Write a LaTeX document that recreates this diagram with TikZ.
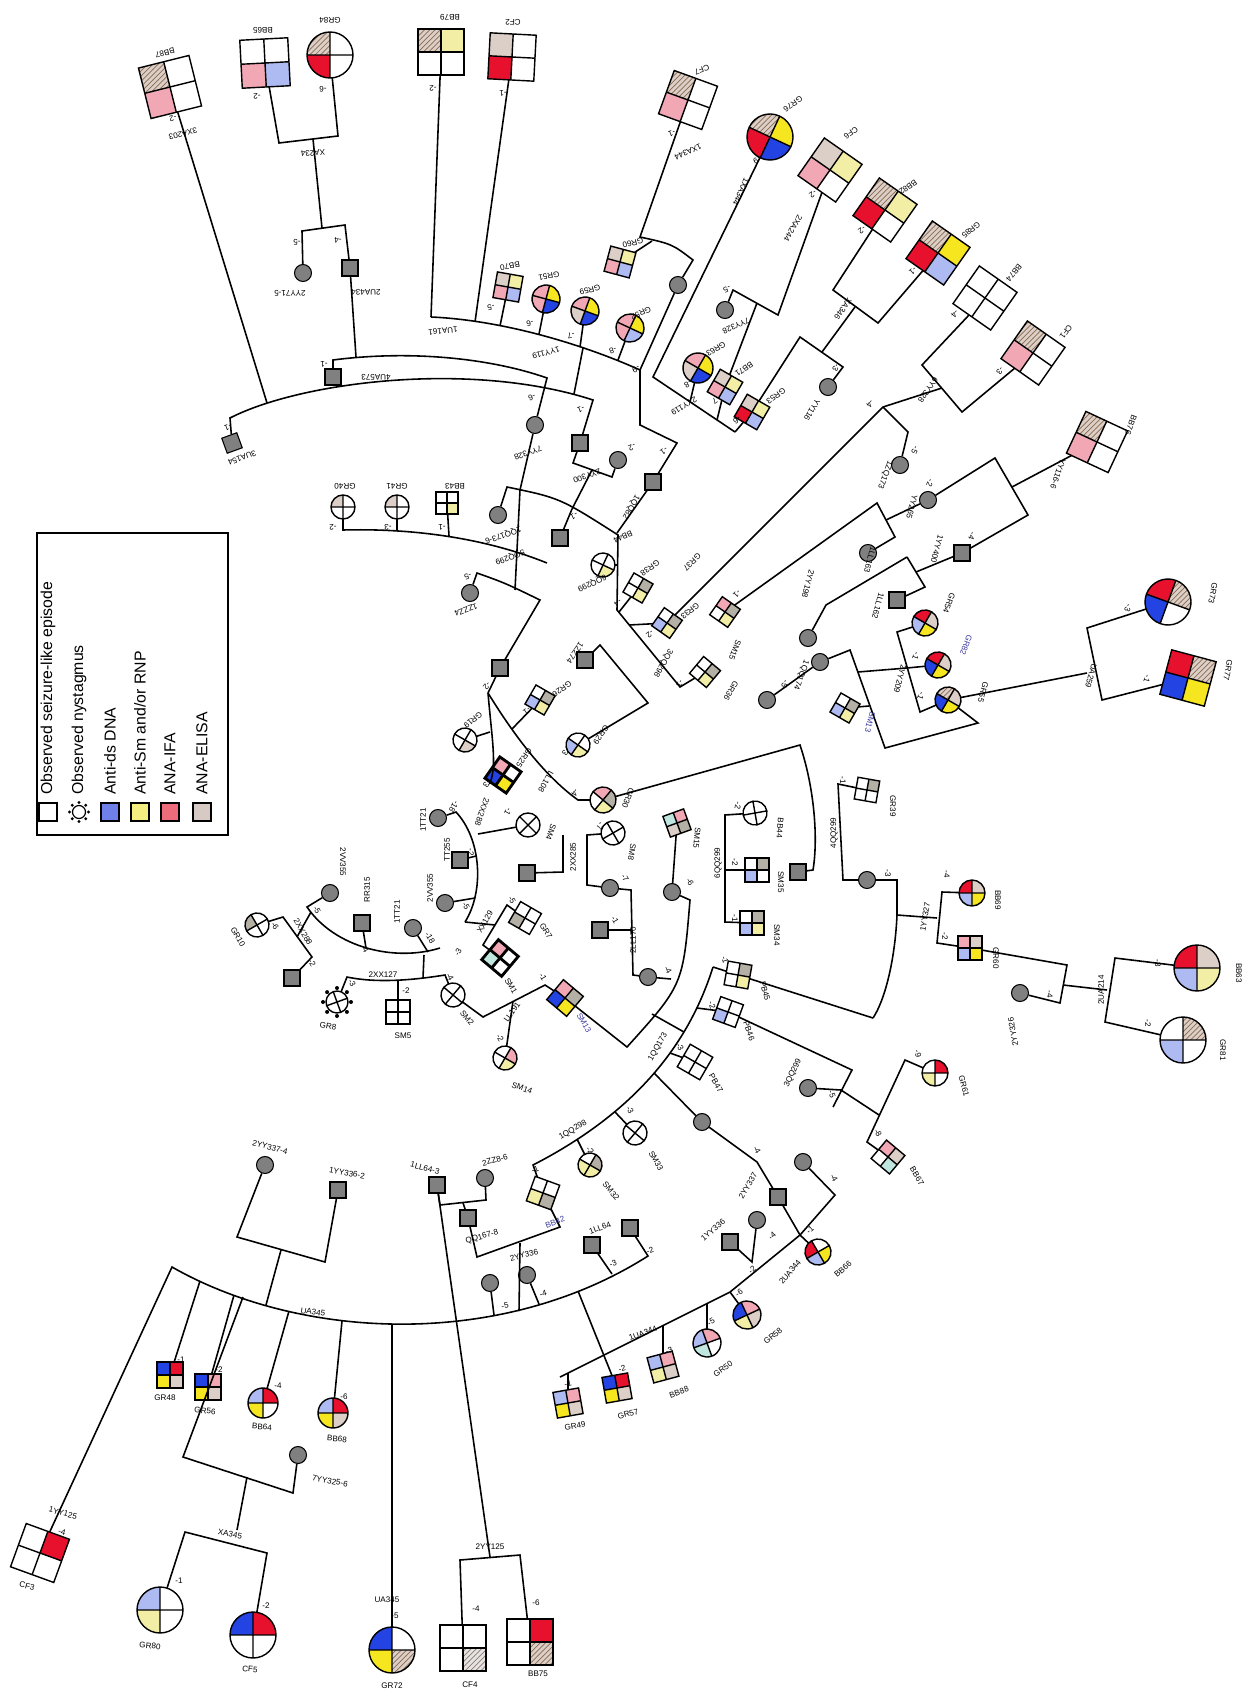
\documentclass[tikz,border=0pt]{standalone}
\usepackage{fontspec}
\setmainfont{Liberation Sans}
\usetikzlibrary{patterns}
\definecolor{dnaS}{HTML}{2343E3}
\definecolor{dnaL}{HTML}{AEBBF2}
\definecolor{smS}{HTML}{F6E620}
\definecolor{smL}{HTML}{F3EEA6}
\definecolor{ifaS}{HTML}{E8112D}
\definecolor{ifaL}{HTML}{F2A7B5}
\definecolor{elisa}{HTML}{DCCFC8}
\definecolor{grayq}{HTML}{B5B0A5}
\definecolor{tealL}{HTML}{BFE6DF}
\definecolor{hatchc}{HTML}{8A6A50}
\definecolor{legB}{HTML}{6F80E8}
\definecolor{legY}{HTML}{F4EE80}
\definecolor{legR}{HTML}{EC6C7C}
\definecolor{legT}{HTML}{D7C9C4}
\definecolor{labblue}{HTML}{3A3AA0}
\tikzset{
  sym/.style={draw,line width=0.8pt},
  symthick/.style={draw,line width=1.6pt},
  hold/.style={inner sep=0pt,outer sep=0pt},
  gsq/.style={draw,line width=0.6pt,fill=black!50,minimum size=0.32cm,inner sep=0pt},
  gci/.style={gsq,circle,minimum size=0.34cm},
  ln/.style={line width=0.9pt},
  lbl/.style={font=\fontsize{4.6}{5}\selectfont,inner sep=0.3pt},
  lgbox/.style={draw,line width=0.7pt,minimum size=0.36cm,inner sep=0pt},
  lgtxt/.style={font=\fontsize{9}{10}\selectfont,inner sep=0pt},
  fW/.style={fill=white}, fB/.style={fill=dnaS}, fLB/.style={fill=dnaL},
  fY/.style={fill=smS}, fLY/.style={fill=smL}, fR/.style={fill=ifaS},
  fPK/.style={fill=ifaL}, fT/.style={fill=elisa}, fG/.style={fill=grayq},
  fLT/.style={fill=tealL},
  fH/.style={fill=elisa,postaction={pattern=north east lines,pattern color=hatchc}},
  fHG/.style={fill=elisa!60,postaction={pattern=north east lines,pattern color=gray}},
}
% quartered square: [border]{name}{pos}{half side}{tilt}{TL}{TR}{BL}{BR}
\newcommand{\quadsq}[9][sym]{%
  \begin{scope}[shift={#3},rotate=#5]
    \fill[#6] (-#4,-#4) rectangle (0,0);
    \fill[#7] (0,-#4) rectangle (#4,0);
    \fill[#8] (-#4,0) rectangle (0,#4);
    \fill[#9] (0,0) rectangle (#4,#4);
    \draw[#1] (-#4,-#4) rectangle (#4,#4) (-#4,0) -- (#4,0) (0,-#4) -- (0,#4);
  \end{scope}
  \node[hold,minimum size=#4*0.04cm,rotate=#5] (#2) at #3 {};}
% quartered circle: [border]{name}{pos}{radius}{tilt}{TL}{TR}{BL}{BR}
\newcommand{\quadci}[9][sym]{%
  \begin{scope}[shift={#3},rotate=#5]
    \begin{scope}
      \clip (0,0) circle[radius=#4];
      \fill[#6] (-#4,-#4) rectangle (0,0);
      \fill[#7] (0,-#4) rectangle (#4,0);
      \fill[#8] (-#4,0) rectangle (0,#4);
      \fill[#9] (0,0) rectangle (#4,#4);
    \end{scope}
    \draw[#1] (0,0) circle[radius=#4] (-#4,0) -- (#4,0) (0,-#4) -- (0,#4);
  \end{scope}
  \node[hold,circle,minimum size=#4*0.04cm] (#2) at #3 {};}

\begin{document}
\begin{tikzpicture}[x=0.02cm,y=-0.02cm]
\fill[white] (0,0) rectangle (1246,1693);
\useasboundingbox (0,0) rectangle (1246,1693);

% ---- individuals, upper part
\quadsq{bb87}{(170,87)}{26}{14}{fH}{fW}{fPK}{fW}
\quadsq{bb65}{(265,63)}{24}{3}{fW}{fW}{fPK}{fLB}
\quadci{gr84}{(330,55)}{23}{0}{fH}{fW}{fR}{fW}
\quadsq{bb79}{(441,52)}{23}{0}{fH}{fLY}{fW}{fW}
\quadsq{cf2}{(512,57)}{23}{-3}{fT}{fW}{fR}{fW}
\quadsq{bb70}{(508,287)}{13}{-10}{fT}{fLY}{fPK}{fLB}
\quadci{gr51}{(546,299)}{14}{-15}{fPK}{fY}{fPK}{fB}
\quadci{gr59}{(585,311)}{14}{-20}{fPK}{fY}{fT}{fB}
\quadci{gr52}{(630,328)}{14}{-25}{fPK}{fY}{fPK}{fLB}
\quadsq{gr60}{(620,262)}{13}{-15}{fT}{fLY}{fPK}{fLB}
\quadsq{cf7}{(688,100)}{23}{-20}{fH}{fW}{fPK}{fW}
\quadci{gr76}{(770,137)}{23}{-25}{fH}{fY}{fR}{fB}
\quadci{gr63}{(698,368)}{15}{-30}{fPK}{fY}{fT}{fB}
\quadsq{bb71}{(725,387)}{13}{-30}{fT}{fLY}{fPK}{fLB}
\quadsq{gr53}{(752,412)}{13}{-30}{fT}{fLY}{fR}{fLB}
\quadsq{cf6}{(830,170)}{23}{-35}{fT}{fLY}{fPK}{fW}
\quadsq{bb82}{(885,210)}{23}{-35}{fH}{fLY}{fR}{fW}
\quadsq{gr85}{(938,253)}{23}{-35}{fH}{fY}{fR}{fLB}
\quadsq{bb74}{(985,298)}{23}{-35}{fW}{fW}{fW}{fW}
\quadsq{cf1}{(1033,353)}{23}{-35}{fH}{fW}{fPK}{fW}
\quadsq{bb76}{(1097,442)}{23}{-25}{fH}{fW}{fPK}{fW}
\node[gci] (yy71) at (303,273) {};
\node[gsq] (ua434) at (350,268) {};
\node[gsq] (ua573) at (333,377) {};
\node[gsq,rotate=20] (ua154) at (232,443) {};
\node[gci] (g678) at (678,285) {};
\node[gci] (yy328a) at (725,310) {};
\node[gci] (yy116) at (828,387) {};

% ---- right part
\quadci{gr54}{(925,623)}{13}{-30}{fR}{fT}{fLB}{fY}
\quadci{gr82}{(938,665)}{13}{-30}{fR}{fT}{fB}{fY}
\quadci{gr55}{(948,700)}{13}{-30}{fH}{fT}{fB}{fY}
\quadsq{sm13a}{(845,708)}{11}{-30}{fW}{fG}{fLB}{fLY}
\quadci{gr73}{(1168,602)}{23}{-20}{fR}{fH}{fB}{fW}
\quadsq{gr77}{(1188,678)}{23}{-15}{fR}{fH}{fB}{fY}
\quadsq{gr39}{(867,790)}{11}{-10}{fW}{fG}{fW}{fW}
\quadci{bb69}{(972,893)}{13}{0}{fR}{fT}{fLB}{fY}
\quadsq{gr60b}{(970,948)}{12}{0}{fPK}{fT}{fLB}{fY}
\quadci{bbk3}{(1197,968)}{23}{0}{fR}{fT}{fLB}{fLY}
\quadci{gr81}{(1183,1040)}{23}{0}{fW}{fH}{fLB}{fW}
\quadci{gr61}{(935,1073)}{13}{0}{fW}{fR}{fLY}{fW}
\quadsq{bb67}{(888,1157)}{12}{-40}{fPK}{fT}{fW}{fLT}
\node[gci] (zq173) at (900,465) {};
\node[gci] (yy265) at (928,500) {};
\node[gsq] (yy400) at (962,553) {};
\node[gci] (ll163) at (868,553) {};
\node[gsq] (ll162) at (897,600) {};
\node[gci] (qq174a) at (808,638) {};
\node[gci] (qq174b) at (820,662) {};
\node[gci] (qq174c) at (767,700) {};
\node[gci] (g867) at (867,880) {};
\node[gsq] (g798) at (798,872) {};
\node[gci] (yy326) at (1020,993) {};
\node[gci] (g808) at (808,1088) {};

% ---- centre
\quadsq{bb43}{(447,503)}{11}{0}{fW}{fW}{fW}{fLY}
\quadci{gr40}{(343,507)}{12}{0}{fT}{fW}{fW}{fW}
\quadci{gr41}{(397,507)}{12}{0}{fT}{fW}{fW}{fW}
\quadsq{gr26}{(540,700)}{11}{-30}{fW}{fG}{fLB}{fLY}
\quadci{bb44}{(603,565)}{12}{-25}{fW}{fW}{fW}{fLY}
\quadsq{gr38}{(638,588)}{11}{-30}{fW}{fG}{fW}{fLY}
\quadsq{gr33}{(667,623)}{11}{-35}{fW}{fG}{fLB}{fLY}
\quadsq{sm15a}{(725,612)}{11}{-35}{fPK}{fG}{fW}{fLY}
\quadsq{gr36}{(705,672)}{11}{-40}{fW}{fG}{fW}{fLY}
\quadci{gr29}{(578,745)}{12}{-35}{fW}{fW}{fLB}{fLY}
\quadci{gr19}{(465,740)}{12}{-30}{fW}{fW}{fW}{fT}
\quadsq[symthick]{gr25}{(503,775)}{13}{-35}{fPK}{fW}{fB}{fY}
\quadci{gr30}{(603,800)}{13}{-40}{fPK}{fG}{fW}{fLY}
\quadci{sm4}{(528,825)}{12}{-45}{fW}{fW}{fW}{fW}
\quadci{sm8}{(613,833)}{12}{-60}{fW}{fW}{fW}{fW}
\quadsq{sm15b}{(677,823)}{11}{-70}{fPK}{fG}{fLT}{fT}
\quadci{bb14}{(755,813)}{12}{-80}{fW}{fW}{fW}{fW}
\quadci{gr10}{(257,925)}{12}{30}{fG}{fW}{fW}{fW}
\quadci{gr8}{(337,1002)}{11}{20}{fW}{fW}{fW}{fW}
\foreach \ang in {0,45,...,315} \fill[shift={(337,1002)}] (\ang:14) circle[radius=2];
\quadsq{sm5}{(398,1012)}{12}{0}{fW}{fW}{fW}{fW}
\quadsq{gr7}{(525,918)}{12}{-30}{fW}{fW}{fG}{fW}
\quadsq[symthick]{sm1}{(500,958)}{13}{-40}{fPK}{fW}{fLT}{fW}
\quadci{sm2}{(453,995)}{12}{-40}{fW}{fW}{fW}{fW}
\quadsq{sm13b}{(565,998)}{13}{-40}{fPK}{fG}{fB}{fY}
\quadci{sm14}{(505,1058)}{12}{-30}{fW}{fPK}{fW}{fLY}
\quadsq{sm35}{(757,870)}{12}{0}{fW}{fG}{fLB}{fW}
\quadsq{sm34}{(752,923)}{12}{0}{fW}{fG}{fLB}{fLY}
\quadsq{pb45}{(738,975)}{12}{-10}{fW}{fG}{fW}{fLY}
\quadsq{pb46}{(728,1012)}{12}{-20}{fW}{fW}{fLB}{fW}
\quadsq{pb47}{(695,1062)}{13}{-30}{fW}{fW}{fW}{fW}
\quadci{sm33}{(635,1133)}{12}{-40}{fW}{fW}{fW}{fW}
\quadci{sm32}{(590,1165)}{12}{-30}{fW}{fG}{fLY}{fLY}
\quadsq{bb42}{(543,1193)}{13}{-20}{fW}{fW}{fLY}{fG}
\quadci{bb66}{(818,1252)}{13}{30}{fR}{fW}{fLB}{fY}
\node[gci] (yy328b) at (535,425) {};
\node[gsq] (g580) at (580,443) {};
\node[gci] (g618) at (618,460) {};
\node[gsq] (qq82) at (653,482) {};
\node[gci] (qq1736) at (498,515) {};
\node[gsq] (g560) at (560,538) {};
\node[gci] (zz4) at (470,593) {};
\node[gsq] (zz74) at (585,660) {};
\node[gsq] (g500) at (500,668) {};
\node[gci] (tt21a) at (438,818) {};
\node[gci] (vv355a) at (330,893) {};
\node[gsq] (rr315) at (362,923) {};
\node[gsq] (g292) at (292,978) {};
\node[gsq] (tt255) at (460,860) {};
\node[gci] (vv355b) at (445,903) {};
\node[gci] (tt21b) at (413,928) {};
\node[gsq] (g527) at (527,873) {};
\node[gci] (g610) at (610,888) {};
\node[gsq] (g600) at (600,930) {};
\node[gci] (g672) at (672,892) {};
\node[gci] (g648) at (648,977) {};
\node[gci] (g702) at (702,1122) {};
\node[gsq] (g778) at (778,1197) {};
\node[gci] (g803) at (803,1162) {};
\node[gsq] (ll643) at (437,1185) {};
\node[gci] (zz86) at (485,1178) {};
\node[gsq] (qq1678) at (468,1218) {};
\node[gsq] (g630) at (630,1228) {};
\node[gsq] (g592) at (592,1245) {};
\node[gsq] (yy336a) at (730,1242) {};
\node[gci] (g757) at (757,1220) {};

% ---- lower part
\quadsq{cf3}{(40,1553)}{23}{-20}{fW}{fR}{fW}{fW}
\quadsq{gr48}{(170,1375)}{13}{0}{fB}{fR}{fY}{fT}
\quadsq{gr56}{(208,1387)}{13}{0}{fB}{fPK}{fY}{fT}
\quadci{bb64}{(263,1403)}{15}{0}{fLB}{fR}{fY}{fW}
\quadci{bb68}{(333,1413)}{15}{0}{fLB}{fR}{fY}{fT}
\quadci{gr80}{(160,1610)}{23}{0}{fLB}{fW}{fLY}{fW}
\quadci{cf5}{(253,1635)}{23}{0}{fB}{fR}{fW}{fW}
\quadci{gr72}{(392,1650)}{23}{0}{fB}{fW}{fY}{fH}
\quadsq{cf4}{(463,1648)}{23}{0}{fW}{fW}{fW}{fHG}
\quadsq{bb75}{(530,1642)}{23}{0}{fW}{fR}{fW}{fH}
\quadsq{gr49}{(568,1403)}{13}{10}{fLB}{fPK}{fY}{fT}
\quadsq{gr57}{(617,1388)}{13}{10}{fB}{fR}{fY}{fT}
\quadsq{bb88}{(663,1367)}{13}{15}{fLB}{fPK}{fLY}{fT}
\quadci{gr50}{(707,1343)}{14}{20}{fLB}{fPK}{fLT}{fW}
\quadci{gr58}{(747,1315)}{14}{25}{fB}{fPK}{fLY}{fT}
\node[gci] (yy3374) at (265,1165) {};
\node[gsq] (yy3362) at (338,1190) {};
\node[gci] (yy3256) at (298,1455) {};
\node[gci] (g490) at (490,1283) {};
\node[gci] (g527b) at (527,1275) {};

% ---- lines, upper part
\draw[ln] (bb87) -- (267,403);
\draw[ln] (bb65) -- (279,143) -- (338,136) -- (gr84);
\draw[ln] (313,139) -- (322,228);
\draw[ln] (yy71) -- (302,231) -- (345,225) -- (ua434);
\draw[ln] (ua434) -- (356,357);
\draw[ln] (ua573) -- (333,360) .. controls (410,350) and (490,358) .. (547,378) -- (yy328b);
\draw[ln] (ua154) -- (230,418) .. controls (300,382) and (470,360) .. (593,400) -- (g580);
\draw[ln] (bb79) -- (431,317);
\draw[ln] (cf2) -- (475,322);
\draw[ln] (431,317) .. controls (500,320) and (580,343) .. (640,370);
\draw[ln] (bb70) -- (500,326);
\draw[ln] (gr51) -- (539,334);
\draw[ln] (gr59) -- (580,347);
\draw[ln] (gr52) -- (618,360);
\draw[ln] (583,348) -- (574,394);
\draw[ln] (640,370) -- (g678) -- (693,260) .. controls (672,244) .. (640,237) -- (cf7);
\draw[ln] (652,241) -- (gr60);
\draw[ln] (640,370) -- (640,425) -- (677,443) -- (qq82) -- (617,533);
\draw[ln] (gr76) -- (653,377) -- (735,432);
\draw[ln] (gr63) -- (690,402);
\draw[ln] (bb71) -- (717,420);
\draw[ln] (gr53) -- (735,432);
\draw[ln] (yy328a) -- (733,290) -- (778,315) -- (cf6);
\draw[ln] (757,303) -- (bb71);
\draw[ln] (bb82) -- (833,290) -- (878,323) -- (gr85);
\draw[ln] (855,307) -- (822,352);
\draw[ln] (gr53) -- (800,337) -- (843,367) -- (yy116);
\draw[ln] (bb74) -- (922,365) -- (962,412) -- (cf1);
\draw[ln] (gr33) -- (883,407) -- (942,388);
\draw[ln] (883,407) -- (908,432) -- (zq173);

% ---- lines, right part
\draw[ln] (bb76) -- (1012,487);
\draw[ln] (yy265) -- (995,458) -- (1028,515) -- (yy400);
\draw[ln] (yy265) -- (886,520);
\draw[ln] (sm15a) -- (877,503) -- (895,537) -- (ll163);
\draw[ln] (yy400) -- (916,572);
\draw[ln] (907,557) -- (925,587) -- (ll162);
\draw[ln] (907,557) -- (826,605) -- (qq174a);
\draw[ln] (qq174b) -- (850,650) -- (885,748) -- (978,723) -- (gr55);
\draw[ln] (qq174c) -- (qq174b);
\draw[ln] (gr54) -- (897,632) -- (920,712) -- (gr55);
\draw[ln] (gr82) -- (907,668) -- (858,672);
\draw[ln] (sm13a) -- (869,706);
\draw[ln] (gr55) -- (1087,673);
\draw[ln] (gr73) -- (1087,628) -- (1102,700) -- (gr77);
\draw[ln] (gr39) -- (838,784) -- (843,880) -- (g867) -- (897,880) -- (897,915) -- (937,918);
\draw[ln] (897,915) .. controls (895,960) and (885,1000) .. (873,1018);
\draw[ln] (bb69) -- (942,892) -- (937,943) -- (gr60b);
\draw[ln] (pb45) -- (873,1018);
\draw[ln] (gr30) -- (800,745) .. controls (815,790) and (818,840) .. (813,870) -- (g798);
\draw[ln] (gr60b) -- (1067,965) -- (1060,1003) -- (yy326);
\draw[ln] (1063,985) -- (1107,990);
\draw[ln] (bbk3) -- (1115,958) -- (1105,1022) -- (gr81);
\draw[ln] (pb46) -- (852,1070) -- (833,1107);
\draw[ln] (g808) -- (841,1090) -- (879,1115);
\draw[ln] (gr61) -- (905,1060) -- (867,1142) -- (bb67);

% ---- lines, centre
\draw[ln] (yy328b) -- (520,490) -- (515,590);
\draw[ln] (qq1736) -- (507,487) .. controls (560,498) .. (618,535) -- (617,610) -- (680,687) -- (gr36);
\draw[ln] (g560) -- (572,509);
\draw[ln] (bb44) -- (617,565);
\draw[ln] (gr38) -- (619,612);
\draw[ln] (gr33) -- (629,625);
\draw[ln] (gr40) -- (343,530) .. controls (420,528) and (490,540) .. (547,563);
\draw[ln] (gr41) -- (397,531);
\draw[ln] (bb43) -- (449,536);
\draw[ln] (zz4) -- (477,573) .. controls (505,583) .. (540,600) -- (g500) -- (488,693);
\draw[ln] (g580) -- (573,463) -- (612,477) -- (g618);
\draw[ln] (592,470) -- (572,509);
\draw[ln] (zz74) -- (600,645) -- (648,703) -- (gr29);
\draw[ln] (488,693) .. controls (520,745) and (550,780) .. (578,800) -- (gr30);
\draw[ln] (gr26) -- (512,729);
\draw[ln] (488,693) .. controls (492,740) and (497,765) .. (490,783) -- (gr25);
\draw[ln] (gr19) -- (490,732);
\draw[ln] (sm4) -- (478,834);
\draw[ln] (tt21a) -- (456,812) .. controls (482,840) and (484,892) .. (465,922);
\draw[ln] (tt255) -- (476,856);
\draw[ln] (vv355b) -- (475,898);
\draw[ln] (gr7) -- (507,905) -- (483,945) -- (sm1);
\draw[ln] (495,925) -- (465,922);
\draw[ln] (vv355a) -- (307,907) .. controls (335,948) and (395,962) .. (440,948);
\draw[ln] (rr315) -- (366,948);
\draw[ln] (tt21b) -- (428,952);
\draw[ln] (gr10) -- (283,917) -- (312,957) -- (g292);
\draw[ln] (297,937) -- (311,912);
\draw[ln] (gr8) -- (347,977) .. controls (380,984) and (420,979) .. (445,975) -- (sm2);
\draw[ln] (sm5) -- (398,980);
\draw[ln] (424,955) -- (423,978);
\draw[ln] (sm2) -- (483,1017) -- (545,985) -- (sm13b);
\draw[ln] (513,1001) -- (sm14);
\draw[ln] (g527) -- (563,872) -- (563,835);
\draw[ln] (sm8) -- (587,835) -- (587,885) -- (g610) -- (631,890) -- (633,975) -- (g648);
\draw[ln] (g600) -- (632,930);
\draw[ln] (sm13b) -- (627,1047) .. controls (683,985) .. (690,900) -- (g672);
\draw[ln] (652,1014) -- (684,1032);
\draw[ln] (g648) -- (671,979);
\draw[ln] (bb14) -- (725,815) -- (725,922) -- (sm34);
\draw[ln] (sm35) -- (725,870);
\draw[ln] (sm15b) -- (g672);
\draw[ln] (713,967) .. controls (690,1040) and (640,1110) .. (533,1165) -- (bb42);
\draw[ln] (pb45) -- (713,967);
\draw[ln] (pb46) -- (697,1008);
\draw[ln] (pb47) -- (670,1053);
\draw[ln] (sm33) -- (615,1112);
\draw[ln] (sm32) -- (577,1139);
\draw[ln] (654,1073) -- (g702) -- (757,1162) -- (g778) -- (800,1235) -- (bb66);
\draw[ln] (g803) -- (835,1195) -- (800,1235);
\draw[ln] (yy336a) -- (752,1262) -- (g757);
\draw[ln] (730,1292) -- (762,1266) -- (800,1235);

% ---- lines, lower part
\draw[ln] (yy3374) -- (237,1237) -- (325,1262) -- (yy3362);
\draw[ln] (281,1250) -- (266,1305);
\draw[ln] (cf3) -- (172,1267) .. controls (300,1340) and (500,1350) .. (648,1256) -- (g630);
\draw[ln] (200,1281) -- (gr48);
\draw[ln] (234,1295) -- (gr56);
\draw[ln] (243,1297) -- (183,1457) -- (293,1493) -- (yy3256);
\draw[ln] (289,1311) -- (bb64);
\draw[ln] (342,1321) -- (bb68);
\draw[ln] (392,1324) -- (gr72);
\draw[ln] (494,1315) -- (g490);
\draw[ln] (539,1304) -- (g527b);
\draw[ln] (520,1243) -- (519,1311);
\draw[ln] (578,1291) -- (gr57);
\draw[ln] (g592) -- (612,1274);
\draw[ln] (247,1477) -- (237,1530);
\draw[ln] (gr80) -- (185,1532) -- (267,1553) -- (cf5);
\draw[ln] (ll643) -- (440,1205) -- (486,1200) -- (zz86);
\draw[ln] (463,1203) -- (qq1678);
\draw[ln] (qq1678) -- (477,1257) -- (560,1227) -- (bb42);
\draw[ln] (ll643) -- (490,1557);
\draw[ln] (cf4) -- (460,1560) -- (520,1555) -- (bb75);
\draw[ln] (560,1377) -- (730,1292);
\draw[ln] (gr49) -- (568,1373);
\draw[ln] (bb88) -- (663,1326);
\draw[ln] (gr50) -- (707,1304);
\draw[ln] (gr58) -- (730,1292);

% ---- labels
\foreach \txt/\px/\py/\ang [count=\i] in {BB87/165/53/194, -2/173/118/194, 3XA203/183/134/194, BB65/263/30/180, -2/257/96/180, GR84/330/20/180, -6/323/89/180, XA234/313/153/185, -5/297/242/180, -4/338/240/180, 2YY71-5/290/293/180, 2UA434/366/292/180, -1/324/364/180, 4UA573/376/377/180, -1/228/427/200, 3UA154/242/458/200, BB79/450/17/180, -2/433/88/180, CF2/513/22/180, -1/503/93/182, 1UA161/443/331/185, 1YY119/546/353/195, BB70/510/266/190, GR51/549/276/190, GR59/590/290/195, GR52/641/313/205, -5/491/307/190, -6/530/323/192, -7/571/335/195, -8/613/350/200, -9/636/369/205, GR60/633/243/195, CF7/702/70/200, -1/672/133/200, 1XA344/688/152/205, GR76/793/104/215, -9/757/160/205, 1XA344/741/192/246, 7YY328/736/326/205, -5/727/289/205, GR63/716/349/212, -8/688/384/210, BB71/744/369/215, -7/716/400/215, GR53/776/396/215, -6/737/420/215, 2YY119/684/406/210, -6/532/397/200, -1/581/409/200}
  \node[lbl,rotate=\ang] (la\i) at (\px,\py) {\txt};
\foreach \txt/\px/\py/\ang [count=\i] in {CF6/851/133/215, -2/813/194/215, 2XA244/793/228/240, BB82/908/187/215, -2/862/230/215, GR85/971/230/220, -1/913/271/220, BB74/1014/273/230, -4/955/314/230, CF1/1066/332/235, -3/1000/371/235, XA346/843/309/235, 6YY328/928/390/235, -4/870/404/235, YY116/812/410/240, -3/836/368/240, BB76/1131/425/250, YY116-6/1058/474/250, 1ZQ173/885/475/250, -5/915/450/245, YY265/912/507/255, -2/930/483/250, 1YY400/937/549/255, -4/972/536/250, 1LL163/870/560/255, 1LL162/878/606/255, 2YY198/808/584/255, GR54/949/603/250, {\color{labblue}GR82}/966/645/250, -1/916/656/250, GR55/983/692/255, -1/921/696/250, 2YY209/900/679/255, {\color{labblue}SM13}/870/722/255, UA259/1091/676/255, GR73/1213/593/260, -3/1128/608/250, GR77/1228/670/260, -1/1147/679/255, GR39/893/806/270, -1/843/780/270, 4QQ299/834/833/90}
  \node[lbl,rotate=\ang] (lb\i) at (\px,\py) {\txt};
\foreach \txt/\px/\py/\ang [count=\i] in {-3/888/873/270, 1YY327/925/917/80, BB69/998/900/270, -4/947/874/270, GR60/996/958/270, -2/945/936/270, 2YY326/1013/1032/100, -4/1050/994/270, 2UA214/1101/990/90, BB63/1239/973/270, -3/1158/963/270, GR81/1223/1050/270, -2/1148/1023/270, 3QQ299/793/1073/65, -5/832/1094/290, GR61/964/1086/285, -9/918/1054/280, BB67/917/1176/300, -8/878/1133/300, -4/834/1178/300}
  \node[lbl,rotate=\ang] (lc\i) at (\px,\py) {\txt};
\foreach \txt/\px/\py/\ang [count=\i] in {7YY328/528/453/200, 2YY300/587/476/200, -2/632/447/205, -1/664/451/215, 1QQ82/631/507/240, 1QQ173-6/503/535/200, -1/574/516/205, 5QQ299/510/557/200, BB43/455/486/180, -1/442/527/180, GR40/345/486/180, -2/333/527/180, GR41/397/486/180, -3/388/527/180, -5/468/576/200, 1ZZZ4/466/610/200, 1ZZ74/575/653/235, -2/487/686/230, GR26/562/689/215, -1/527/711/215, BB44/623/537/205, 6QQ299/592/583/205, GR38/650/568/215, -4/618/603/215, GR33/690/611/220, -2/650/634/220, GR37/692/562/225, SM15/735/650/250, -1/737/594/225, GR36/731/691/240, -1/680/684/240, 3QQ298/663/663/240, 1QQ174/801/675/250, -5/785/684/250, LL108/546/782/240, GR29/601/735/235, -3/566/752/235, GR19/473/720/220, GR25/524/758/235, -3/487/784/235, GR30/628/798/250, -4/575/793/240, SM4/551/832/250, -1/508/812/240, 1TT21/423/820/90, -18/454/807/240, 2XX288/482/812/250, SM8/632/852/260, -7/600/826/250, SM15/697/838/265, BB44/780/828/265, -2/738/806/260}
  \node[lbl,rotate=\ang] (ld\i) at (\px,\py) {\txt};
\foreach \txt/\px/\py/\ang [count=\i] in {2VV355/343/862/270, -5/317/910/300, RR315/367/890/90, -4/365/949/300, GR10/238/937/300, -6/275/926/300, 2XX288/303/932/300, -2/312/963/300, 2XX127/383/975/0, GR8/328/1026/350, -3/352/983/300, SM5/403/1036/0, -2/406/991/0, 2YY337-4/270/1147/345, 1YY336-2/347/1173/350, TT255/447/850/90, -2/471/852/270, 2VV355/430/888/90, -5/466/906/300, 1TT21/397/912/90, -18/430/938/300, XX129/485/922/60, GR7/546/931/300, -5/512/900/300, SM1/511/986/300, -3/458/952/60, SM2/467/1018/310, -4/450/977/300, {\color{labblue}SM13}/584/1023/300, -1/543/977/300, LL191/512/1012/55, SM14/522/1088/340, -2/500/1038/300, 2XX285/573/857/90, -7/625/878/300, -1/615/920/300, 2LL170/633/940/90, -6/690/882/300, -4/668/970/300, SM35/781/882/270, -2/735/862/270, SM34/777/935/270, -1/735/918/270, 6QQ299/718/863/90, PB45/765/991/285, -1/725/960/285, PB46/749/1031/290, -2/712/1005/290, PB47/716/1083/300, -3/680/1047/300, 1QQ173/658/1047/60, 1QQ298/573/1130/30, SM33/656/1161/300, -3/630/1110/300, SM32/611/1191/310, -2/590/1150/310, {\color{labblue}BB42}/555/1222/20, -1/535/1170/20, -4/757/1150/300, 2YY337/748/1186/60, 1LL64-3/425/1168/345, 2ZZ8-6/495/1160/15, QQ167-8/482/1237/15, 1LL64/600/1228/20, -2/650/1251/20, -3/613/1264/20, 2YY336/524/1255/15, 1YY336/713/1230/40, -2/752/1270/40, -4/772/1236/40, 2UA344/790/1272/50, BB66/843/1269/40, -1/810/1230/40}
  \node[lbl,rotate=\ang] (le\i) at (\px,\py) {\txt};
\foreach \txt/\px/\py/\ang [count=\i] in {UA345/313/1312/352, 1YY125/63/1513/345, CF3/27/1586/345, -4/62/1532/345, GR48/165/1398/0, -1/181/1360/0, GR56/205/1411/355, -2/219/1370/0, BB64/262/1427/355, -4/278/1386/0, BB68/337/1439/355, -6/344/1397/0, 7YY325-6/330/1481/350, XA345/230/1534/350, GR80/150/1646/355, -1/179/1581/0, CF5/250/1669/355, -2/266/1606/0, UA345/387/1600/0, -5/395/1616/0, GR72/392/1686/0, 2YY125/490/1547/0, CF4/470/1685/0, -4/476/1609/0, BB75/538/1674/0, -6/536/1603/0, -5/505/1306/10, -4/543/1294/15, 1UA344/643/1333/20, GR49/575/1426/10, -1/568/1384/10, GR57/628/1414/15, -2/622/1369/15, BB88/679/1392/20, -3/669/1351/20, GR50/723/1369/35, -5/711/1322/30, GR58/773/1336/40, -6/739/1293/35}
  \node[lbl,rotate=\ang] (lf\i) at (\px,\py) {\txt};

% ---- legend
\draw[line width=0.8pt] (37,533) rectangle (228,835);
\node[lgbox,line width=1.5pt] (lgsz) at (48,812) {};
\node[lgbox,circle,minimum size=0.26cm] (lgny) at (79,812) {};
\foreach \ang in {0,45,...,315} \fill[shift={(79,812)}] (\ang:9.5) circle[radius=1.6];
\node[lgbox,fill=legB] (lgdna) at (110,812) {};
\node[lgbox,fill=legY] (lgsm) at (140,812) {};
\node[lgbox,fill=legR] (lgifa) at (170,812) {};
\node[lgbox,fill=legT] (lgel) at (202,812) {};
\foreach \px/\txt [count=\i] in {48/Observed seizure-like episode, 79/Observed nystagmus, 110/Anti-ds DNA, 140/{Anti-Sm and/or RNP}, 170/ANA-IFA, 202/ANA-ELISA}
  \node[lgtxt,rotate=90,anchor=west] (lgt\i) at (\px,795) {\txt};
\end{tikzpicture}
\end{document}
